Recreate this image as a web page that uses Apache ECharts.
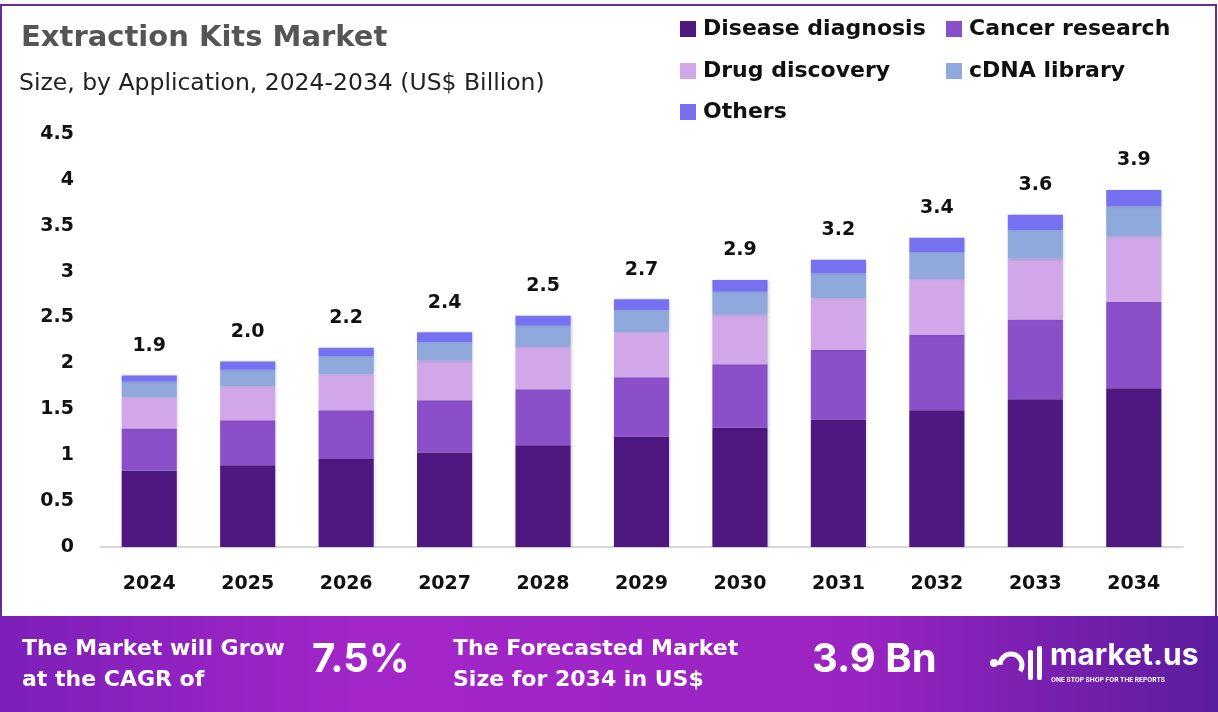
<!DOCTYPE html>
<html>
<head>
  <meta charset="utf-8" />
  <title>Extraction Kits Market</title>
  <script src="https://cdn.jsdelivr.net/npm/echarts@6/dist/echarts.min.js"></script>
  <style>
    html, body {
      height: 100%;
      margin: 0;
      padding: 0;
      background: #ffffff;
    }
    #main {
      width: 1218px;
      height: 712px;
    }
  </style>
</head>
<body>
  <div id="main"></div>

  <script type="text/javascript">
    const years = ['2024', '2025', '2026', '2027', '2028', '2029', '2030', '2031', '2032', '2033', '2034'];
    const diseaseDiagnosis = [0.83, 0.89, 0.96, 1.03, 1.11, 1.20, 1.30, 1.39, 1.49, 1.61, 1.73];
    const cancerResearch = [0.46, 0.49, 0.53, 0.57, 0.61, 0.65, 0.69, 0.76, 0.82, 0.87, 0.94];
    const drugDiscovery = [0.34, 0.37, 0.39, 0.43, 0.46, 0.49, 0.54, 0.56, 0.61, 0.66, 0.71];
    const cdnaLibrary = [0.17, 0.18, 0.20, 0.20, 0.23, 0.24, 0.25, 0.27, 0.29, 0.31, 0.33];
    const others = [0.07, 0.09, 0.09, 0.11, 0.11, 0.12, 0.13, 0.15, 0.16, 0.17, 0.18];
    const totalLabels = ['1.9', '2.0', '2.2', '2.4', '2.5', '2.7', '2.9', '3.2', '3.4', '3.6', '3.9'];

    const names = ['Disease diagnosis', 'Cancer research', 'Drug discovery', 'cDNA library', 'Others'];
    const colors = ['#4e1880', '#8a4fc9', '#d1a7e9', '#8fa9dc', '#7671f1'];
    const values = [diseaseDiagnosis, cancerResearch, drugDiscovery, cdnaLibrary, others];

    const chart = echarts.init(document.getElementById('main'));
    const font = '"DejaVu Sans", sans-serif';
    const font2 = 'Inter, "Noto Sans", sans-serif';

    // one legend per item so they sit in two fixed columns
    const legendPos = [[680, 18], [946, 18], [680, 60], [946, 60], [680, 101]];
    const legends = names.map((n, i) => ({
      data: [n],
      left: legendPos[i][0],
      top: legendPos[i][1],
      padding: 0,
      itemWidth: 16,
      itemHeight: 16,
      itemGap: 0,
      icon: 'rect',
      textStyle: { fontSize: 22, fontWeight: 600, color: '#111', fontFamily: font, padding: [0, 0, 0, 2] },
      selectedMode: false
    }));

    const series = names.map((n, i) => ({
      name: n,
      type: 'bar',
      stack: 'total',
      barWidth: '56%',
      data: values[i],
      itemStyle: {
        color: colors[i],
        shadowColor: 'rgba(0,0,0,0.18)',
        shadowBlur: 3,
        shadowOffsetX: 1
      },
      label: i === 4 ? {
        show: true,
        position: 'top',
        distance: 20,
        formatter: p => totalLabels[p.dataIndex],
        fontSize: 19,
        fontWeight: 'bold',
        color: '#111',
        fontFamily: font
      } : { show: false }
    }));

    const white = { fill: '#ffffff', fontFamily: font, fontWeight: 'bold' };

    const option = {
      animation: false,
      backgroundColor: '#ffffff',
      title: [
        {
          text: 'Extraction Kits Market',
          left: 16,
          top: 19,
          textStyle: { fontSize: 29, fontWeight: 'bold', color: '#555555', fontFamily: font }
        },
        {
          text: 'Size, by Application, 2024-2034 (US$ Billion)',
          left: 14,
          top: 67,
          textStyle: { fontSize: 23.5, fontWeight: 'normal', color: '#222222', fontFamily: font }
        }
      ],
      legend: legends,
      grid: { left: 100, right: 35, top: 134, bottom: 165 },
      xAxis: {
        type: 'category',
        data: years,
        axisTick: { show: false },
        axisLine: { lineStyle: { color: '#d8d8d8', width: 2 } },
        axisLabel: { fontSize: 19, fontWeight: 'bold', color: '#111', margin: 28, fontFamily: font }
      },
      yAxis: {
        type: 'value',
        min: 0,
        max: 4.5,
        interval: 0.5,
        splitLine: { show: false },
        axisLine: { show: false },
        axisLabel: { fontSize: 19, fontWeight: 'bold', color: '#111', margin: 26, fontFamily: font }
      },
      series: series,
      graphic: [
        {
          type: 'rect',
          shape: { x: 1, y: 5, width: 1215, height: 700 },
          style: { fill: 'none', stroke: '#6b2a94', lineWidth: 2 },
          z: 1
        },
        {
          type: 'rect',
          shape: { x: 0, y: 616, width: 1218, height: 96 },
          style: {
            fill: new echarts.graphic.LinearGradient(0, 0, 1, 0, [
              { offset: 0, color: '#7d1fb8' },
              { offset: 0.3, color: '#a326c9' },
              { offset: 0.7, color: '#9a24c2' },
              { offset: 1, color: '#5b1c9f' }
            ])
          },
          z: 2
        },
        { type: 'text', left: 22, top: 634, z: 3, style: Object.assign({ text: 'The Market will Grow\nat the CAGR of', fontSize: 22, lineHeight: 31 }, white) },
        { type: 'text', left: 312, top: 640, z: 3, style: Object.assign({ text: '7.5%', fontSize: 40 }, white, { fontFamily: font2 }) },
        { type: 'text', left: 453, top: 634, z: 3, style: Object.assign({ text: 'The Forecasted Market\nSize for 2034 in US$', fontSize: 22, lineHeight: 31 }, white) },
        { type: 'text', left: 812, top: 640, z: 3, style: Object.assign({ text: '3.9 Bn', fontSize: 40 }, white, { fontFamily: font2 }) },
        // market.us logo mark
        { type: 'circle', shape: { cx: 994, cy: 663, r: 4 }, style: { fill: '#fff' }, z: 3 },
        { type: 'arc', shape: { cx: 1011, cy: 665, r: 11, startAngle: Math.PI, endAngle: 2 * Math.PI + 0.6 }, style: { stroke: '#fff', lineWidth: 5, fill: 'none' }, z: 3 },
        { type: 'rect', shape: { x: 1028, y: 650, width: 5, height: 30, r: 2 }, style: { fill: '#fff' }, z: 3 },
        { type: 'rect', shape: { x: 1037, y: 646, width: 5, height: 34, r: 2 }, style: { fill: '#fff' }, z: 3 },
        { type: 'text', left: 1050, top: 641, z: 3, style: Object.assign({ text: 'market.us', fontSize: 30 }, white, { fontFamily: font2 }) },
        { type: 'text', left: 1051, top: 677, z: 3, style: Object.assign({ text: 'ONE STOP SHOP FOR THE REPORTS', fontSize: 6.5 }, white, { fontFamily: font2 }) }
      ]
    };

    chart.setOption(option);
  </script>
</body>
</html>
